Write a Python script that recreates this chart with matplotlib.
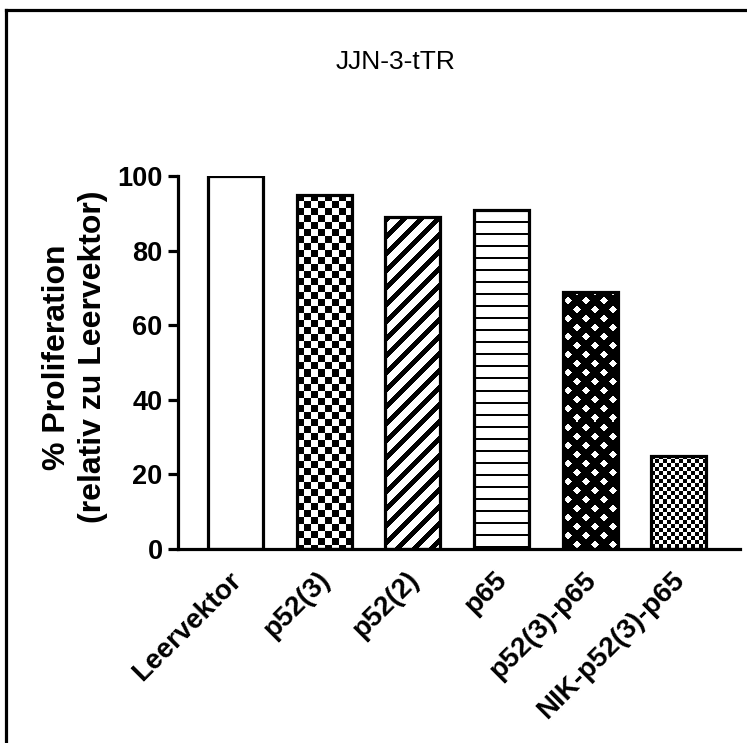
import numpy as np
import matplotlib
matplotlib.use("Agg")
import matplotlib.pyplot as plt
from matplotlib.lines import Line2D
from matplotlib.transforms import ScaledTranslation

# ---- data ----
categories = ["Leervektor", "p52(3)", "p52(2)", "p65", "p52(3)-p65", "NIK-p52(3)-p65"]
values = [100, 95, 89, 91, 69, 25]
patterns = ["none", "checker", "diag", "hlines", "lattice", "finechecker"]
yticks = [0, 20, 40, 60, 80, 100]
title = "JJN-3-tTR"
ylabel = "% Proliferation\n(relativ zu Leervektor)"

plt.rcParams['font.family'] = ['Liberation Sans', 'DejaVu Sans']

fig = plt.figure(figsize=(7.47, 7.43), dpi=100)
ax = fig.add_axes([178/747, 1-549/743, (740-178)/747, (549-176)/743])

xs = np.arange(len(categories))
bw = 0.62
bars = ax.bar(xs, values, width=bw, color="white", edgecolor="none", zorder=1)
ax.set_xlim(-0.65, len(categories) - 1 + 0.69)
ax.set_ylim(0, 100)


def make_pattern(kind, h, w):
    r, c = np.mgrid[0:h, 0:w]
    if kind == "checker":
        s = 7
        return (((r // s) + (c // s)) % 2 == 0).astype(float)
    if kind == "finechecker":
        s = 4
        return (((r // s) + (c // s)) % 2 == 0).astype(float)
    if kind == "diag":
        return (((c + r) % 17) < 7).astype(float)
    if kind == "hlines":
        return ((r % 12) < 2).astype(float)
    if kind == "lattice":
        P, wd = 18, 10
        u = (c + r) % P
        v = (c - r) % P
        return ((u < wd) | (v < wd)).astype(float)
    return np.zeros((h, w))


for bar, kind in zip(bars, patterns):
    if kind == "none":
        continue
    ext = bar.get_window_extent()
    hp, wp = int(round(ext.height)), int(round(ext.width))
    arr = make_pattern(kind, hp, wp)
    x0 = bar.get_x()
    x1 = x0 + bar.get_width()
    y0 = bar.get_y()
    y1 = y0 + bar.get_height()
    im = ax.imshow(arr, cmap="gray_r", vmin=0, vmax=1, extent=(x0, x1, y0, y1),
                   interpolation="nearest", aspect="auto", zorder=2)
    im.set_clip_path(bar)

ax.bar(xs, values, width=bw, fill=False, edgecolor="black", linewidth=2.3, zorder=3)
ax.set_xlim(-0.65, len(categories) - 1 + 0.69)
ax.set_ylim(0, 100)

for s in ["top", "right"]:
    ax.spines[s].set_visible(False)
for s in ["left", "bottom"]:
    ax.spines[s].set_linewidth(2.3)
    ax.spines[s].set_zorder(4)

ax.set_yticks(yticks)
ax.set_yticklabels([str(t) for t in yticks], fontsize=19.5, fontweight="bold")
ax.tick_params(axis="y", length=7, width=2.3, pad=4)
ax.set_xticks(xs)
ax.set_xticklabels(categories, rotation=45, ha="right", fontsize=20, fontweight="bold")
ax.tick_params(axis="x", length=0, pad=13)
offset = ScaledTranslation(11/100, 0, fig.dpi_scale_trans)
for lbl in ax.get_xticklabels():
    lbl.set_transform(lbl.get_transform() + offset)

fig.text(396/747, 1-62/743, title, ha="center", va="center", fontsize=19)
fig.text(75/747, 1-357/743, ylabel, ha="center", va="center", rotation=90,
         fontsize=23, fontweight="bold", multialignment="center", linespacing=1.3)

# outer frame (left and top edges)
fig.add_artist(Line2D([6/747, 6/747], [0, 1-10/743], transform=fig.transFigure,
                      color="black", linewidth=2.3))
fig.add_artist(Line2D([6/747, 1], [1-10/743, 1-10/743], transform=fig.transFigure,
                      color="black", linewidth=2.3, solid_capstyle="projecting"))

fig.savefig("out.png", dpi=100)
